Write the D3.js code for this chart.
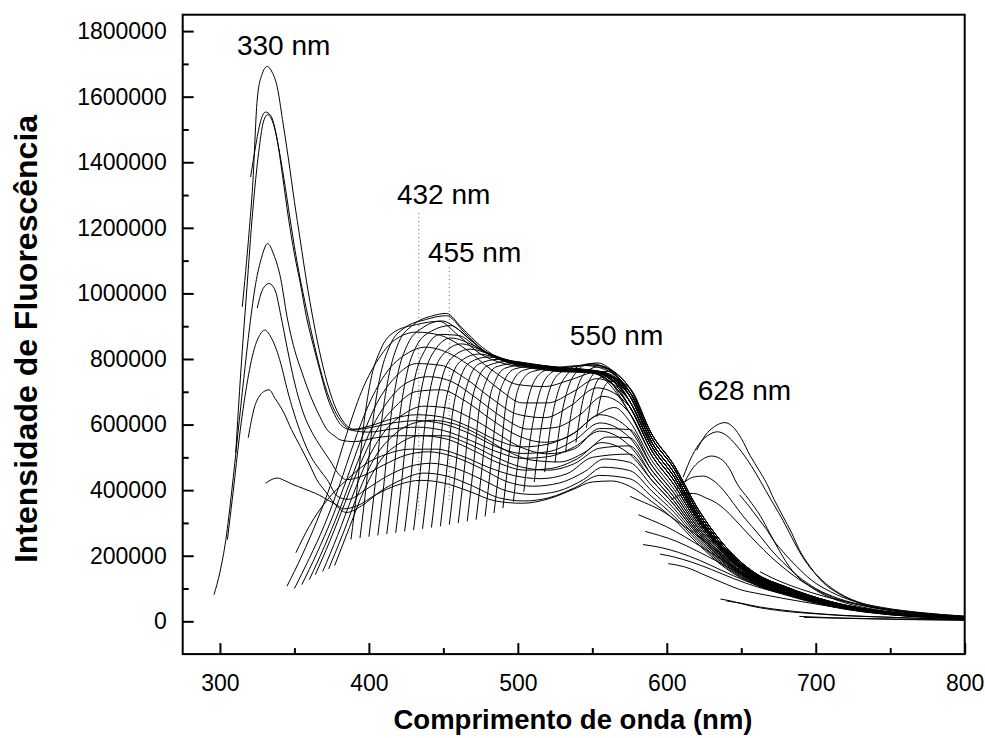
<!DOCTYPE html>
<html><head><meta charset="utf-8">
<script src="https://cdn.jsdelivr.net/npm/d3@7"></script>
<style>body{margin:0;background:#fff}</style>
</head><body>
<svg id="c" width="985" height="738"></svg>
<script>
// ---------- axis ticks ----------
const xMajor = [300, 400, 500, 600, 700, 800];
const xMinor = [350, 450, 550, 650, 750];
const yMajor = [0, 200000, 400000, 600000, 800000, 1000000, 1200000, 1400000, 1600000, 1800000];
const yMinor = [100000, 300000, 500000, 700000, 900000, 1100000, 1300000, 1500000, 1700000];

// ---------- annotations (wavelength nm, intensity) ----------
const peakLabels = ["330 nm", "432 nm", "455 nm", "550 nm", "628 nm"];
const peakLabelX = [311.4, 418.8, 439.6, 534.9, 620.8];
const peakLabelY = [1727000, 1273000, 1096000, 843000, 674000];
const guideX = [433.5, 454];
const guideTop = [1245000, 1081000];
const guideBottom = [318000, 361000];

// ---------- spectra: [wavelength nm, intensity in thousands] ----------
// shared long-wavelength tails (575-800 nm)
const tailA = [[575,712],[590,570],[605,475],[620,350],[640,225],[660,145],[680,105],[710,60],[750,27],[800,12]];
const tailB = [[575,700],[590,558],[605,465],[620,340],[640,218],[660,141],[680,102],[710,58],[750,26],[800,12]];
const tailC = [[575,688],[590,545],[605,452],[620,330],[640,212],[660,138],[680,100],[710,57],[750,26],[800,11]];
const tailD = [[575,672],[590,533],[605,440],[620,322],[640,207],[660,135],[680,98],[710,56],[750,25],[800,11]];
const tailE = [[575,655],[590,520],[605,428],[620,314],[640,202],[660,132],[680,96],[710,55],[750,25],[800,11]];
const tailF = [[575,635],[590,505],[605,415],[620,305],[640,197],[660,129],[680,94],[710,54],[750,24],[800,11]];
const tailG = [[575,610],[590,490],[605,402],[620,297],[640,192],[660,126],[680,92],[710,53],[750,24],[800,10]];
const tailH = [[575,585],[590,475],[605,390],[620,290],[640,188],[660,124],[680,90],[710,52],[750,23],[800,10]];
const tailI = [[575,560],[590,460],[605,378],[620,282],[640,184],[660,122],[680,89],[710,51],[750,23],[800,10]];
const tailJ = [[575,535],[590,445],[605,366],[620,275],[640,180],[660,120],[680,88],[710,50],[750,22],[800,10]];
const tailK = [[575,510],[590,430],[605,355],[620,268],[640,176],[660,118],[680,86],[710,49],[750,22],[800,9]];
const tailL = [[575,485],[590,413],[605,343],[620,261],[640,172],[660,116],[680,85],[710,48],[750,21],[800,9]];
const tailM = [[575,460],[590,397],[605,332],[620,254],[640,168],[660,114],[680,84],[710,47],[750,21],[800,9]];
const tailN = [[575,435],[590,380],[605,320],[620,247],[640,164],[660,112],[680,82],[710,46],[750,20],[800,9]];
const tailO = [[575,412],[590,365],[605,310],[620,240],[640,160],[660,110],[680,80],[710,45],[750,20],[800,8]];

// UV-excited spectra (330 nm band)
const uvCurves = [
 [[315,959],[319.5,1183],[322,1330],[325,1590],[328,1665],[331.8,1692],[335,1675],[338.5,1629],[342,1530],[346,1410],[350,1280],[354,1160],[358,1040],[363,910],[368,800],[373,712],[378,648],[383,608],[390,586],[400,595],[416,618],[432,630],[450,622],[468,592],[486,552],[503,532],[520,540],[538,575],[555,630]],
 [[320.6,1355],[324,1450],[327,1520],[330.5,1553],[334,1543],[338,1480],[342,1360],[346,1230],[350,1120],[354,1030],[358,930],[363,836],[368,750],[372,685],[377,630],[381,600],[388,584],[400,590],[416,605],[432,612],[450,602],[468,572],[486,532],[503,512],[520,517],[538,552],[555,605]],
 [[310.6,514],[314,760],[318,1010],[322,1250],[326,1430],[329,1520],[332,1545],[336,1515],[340,1430],[344,1320],[348,1200],[352,1090],[357,975],[362,870],[367,775],[372,698],[377,642],[382,606],[389,582],[400,577],[416,587],[432,592],[450,582],[468,552],[486,517],[503,497],[520,502],[538,532],[555,580]],
 [[296,81],[300,150],[304,250],[308,400],[312,570],[316,740],[320,900],[324,1030],[328,1110],[332,1152],[336,1120],[340.8,1045],[345,930],[350,830],[355,760],[361,685],[367,625],[372,584],[377,565],[381,553],[390,548],[405,560],[420,566],[435,566],[452,556],[470,521],[488,481],[505,461],[522,466],[540,496],[556,545]],
 [[325,955],[329,1015],[333,1030],[337,1010],[341,930],[345,837],[350,730],[356,635],[362,575],[368,530],[374,490],[379,453],[385,432],[395,442],[410,477],[425,507],[440,517],[457,502],[475,467],[492,427],[510,412],[528,422],[545,457],[558,495]],
 [[305,249],[309,400],[313,560],[318,720],[323,830],[327,875],[330,888],[335,860],[340.8,787],[345,710],[349.7,635],[355,565],[361,503],[367,462],[372,432],[379,381],[386,372],[398,402],[412,442],[427,472],[442,482],[458,467],[476,432],[493,397],[510,387],[527,397],[544,432],[557,470]],
 [[319,560],[323,650],[327,690],[330,702],[333,706],[337,680],[343,635],[348,585],[354,533],[360,480],[365,432],[371,395],[376.5,361],[385,332],[395,352],[408,397],[422,432],[437,452],[453,442],[470,412],[487,377],[504,367],[521,377],[538,407],[555,445]],
 [[330.7,421],[335,433],[338.5,437],[344,428],[349.7,416],[356,405],[361,396],[367,384],[372,371],[378,356],[383,343],[392,352],[405,387],[420,417],[435,430],[450,422],[467,397],[485,367],[503,360],[521,374],[537,402],[550,425],[563,428]]
];
const uvTails = [tailH, tailI, tailJ, tailK, tailL, tailM, tailN, tailO];

// spectra starting 345-377 nm (rising bundle)
const bundleCurves = [
 [[345,107],[355,200],[365,305],[375,425],[385,570],[395,700],[405,790],[418,860],[432,882],[448,872],[465,830],[482,768],[500,722],[518,716],[535,736],[553,760]],
 [[350,100],[360,192],[370,292],[380,412],[390,545],[400,662],[412,760],[425,815],[438,836],[455,815],[472,765],[488,706],[503,666],[520,666],[537,700],[553,740]],
 [[355,112],[365,207],[375,312],[385,432],[395,557],[405,662],[418,746],[432,786],[448,781],[465,740],[482,681],[500,631],[518,621],[535,656],[553,712]],
 [[360,127],[370,227],[380,337],[390,457],[400,571],[412,666],[425,726],[440,746],[456,730],[472,681],[490,621],[507,586],[525,591],[542,631],[557,686]],
 [[364,142],[374,247],[384,362],[394,477],[405,581],[418,656],[432,701],[448,706],[465,671],[482,616],[500,566],[518,546],[535,566],[552,626],[565,652]],
 [[369,152],[379,262],[389,382],[399,492],[410,576],[423,631],[437,656],[452,651],[468,621],[485,576],[502,531],[520,511],[538,526],[555,588]],
 [[373,160],[383,272],[393,392],[403,492],[415,561],[428,601],[442,613],[458,601],[475,566],[492,521],[510,491],[528,486],[545,516],[560,562]],
 [[377,170],[387,287],[397,402],[408,492],[420,541],[434,566],[450,566],[467,541],[485,501],[502,471],[520,461],[538,481],[555,528]],
 [[351,209],[360,290],[372,370],[385,431],[398,480],[412,510],[428,525],[445,525],[462,505],[480,470],[497,445],[515,435],[533,450],[550,500]]
];
const bundleTails = [tailC, tailD, tailE, tailF, tailG, tailH, tailI, tailJ, tailK];

// spectra starting 388-490 nm (steep strokes of the mesh)
const strokeCurves = [
 [[388,250],[392,400],[396,580],[401,730],[408,830],[418,885],[432,905],[447,915],[460,872],[475,815],[490,787],[510,771],[530,761],[552,758]],
 [[394,254],[398,405],[402,585],[407,735],[414,840],[424,895],[438,920],[452,932],[464,882],[478,822],[492,791],[510,773],[530,762],[552,760]],
 [[400,258],[404,410],[408,590],[413,740],[420,850],[430,905],[443,932],[452,939],[462,897],[476,836],[490,797],[510,776],[530,763],[552,762]],
 [[406,262],[410,415],[414,595],[419,745],[426,845],[436,895],[449,916],[460,890],[474,836],[488,798],[505,779],[525,766],[552,758]],
 [[412,266],[416,420],[420,600],[425,745],[432,840],[442,885],[455,902],[466,866],[480,816],[495,790],[515,773],[535,763],[552,756]],
 [[418,270],[422,425],[426,605],[431,745],[438,830],[448,875],[460,872],[474,831],[488,800],[505,781],[525,767],[552,758]],
 [[424,274],[428,430],[432,610],[437,745],[444,825],[455,864],[470,842],[484,806],[500,785],[520,771],[540,763],[554,758]],
 [[430,278],[434,435],[438,615],[443,745],[450,815],[462,846],[476,826],[490,801],[505,783],[525,769],[545,762],[556,756]],
 [[436,282],[440,440],[444,620],[449,740],[456,805],[468,830],[482,813],[496,793],[512,779],[530,766],[550,758]],
 [[442,286],[446,445],[450,625],[455,735],[462,795],[474,815],[488,801],[502,787],[518,775],[536,765],[552,755]],
 [[448,290],[452,450],[456,630],[461,735],[468,790],[480,806],[495,793],[510,781],[528,769],[545,763],[557,757]],
 [[454,295],[458,455],[462,635],[467,735],[474,785],[487,799],[503,789],[518,777],[535,767],[552,759]],
 [[460,300],[464,460],[468,640],[473,735],[480,780],[494,793],[510,785],[525,774],[542,766],[557,760]],
 [[466,305],[470,465],[474,645],[479,735],[486,777],[500,787],[517,780],[533,771],[550,762]],
 [[472,310],[476,470],[480,650],[485,735],[492,773],[506,783],[523,777],[540,769],[555,760]],
 [[478,320],[482,480],[486,655],[491,735],[498,770],[512,779],[530,773],[547,767],[559,758]],
 [[484,330],[488,490],[492,660],[497,735],[504,766],[518,776],[536,771],[552,764]],
 [[490,345],[494,505],[498,665],[503,735],[510,762],[524,771],[542,769],[557,760]]
];
const strokeTails = [tailA, tailB, tailC, tailD, tailE, tailC, tailB, tailD, tailE, tailF, tailC, tailD, tailB, tailE, tailF, tailD, tailC, tailE];

// spectra starting 497-553 nm (550 nm band)
const greenCurves = [
 [[497,365],[501,520],[506,660],[512,740],[520,768],[532,777],[545,780],[556,772]],
 [[504,395],[508,545],[513,670],[519,742],[527,768],[539,778],[551,782],[561,768]],
 [[511,425],[515,570],[520,685],[526,748],[534,770],[545,782],[555,780],[564,762]],
 [[518,455],[522,595],[527,700],[533,752],[541,777],[550,786],[558,776],[566,755]],
 [[525,485],[529,620],[534,715],[540,764],[547,784],[554,788],[562,770]],
 [[532,515],[536,640],[541,725],[547,765],[554,776],[562,764]],
 [[539,545],[543,660],[548,735],[554,762],[561,762],[567,745]],
 [[546,590],[550,690],[555,742],[561,750],[567,736]],
 [[553,624],[557,705],[562,732],[568,720]]
];
const greenTails = [tailB, tailB, tailA, tailA, tailA, tailB, tailC, tailC, tailD];

// spectra starting 575-601 nm (low, descending)
const orangeCurves = [
 [[575.4,381],[585,362],[595.5,340],[607,305],[618,270],[630,228],[640,192],[652,155],[665,122],[680,92],[700,62],[725,38],[750,23],[800,9]],
 [[581,325],[590,308],[600,288],[612,258],[625,222],[638,185],[652,147],[668,112],[685,85],[705,60],[730,37],[760,21],[800,9]],
 [[585.5,274],[595,262],[607,243],[620,215],[635,180],[650,143],[665,112],[680,88],[700,64],[725,41],[755,23],[800,9]],
 [[584,234],[595,226],[608,210],[622,186],[637,155],[652,125],[668,100],[685,80],[705,58],[730,37],[760,21],[800,9]],
 [[595.5,205],[605,196],[617,180],[630,158],[645,130],[660,106],[677,85],[695,66],[718,46],[745,29],[775,17],[800,10]],
 [[601,176],[612,166],[627,138],[640,113],[649,97],[662,84],[678,70],[697,55],[720,39],[748,26],[775,16],[800,9]]
];

// spectra with the 628 nm band
const redCurves = [
 [[620,522],[626,568],[632,594],[639,606],[645,590],[650,558],[656,505],[662,460],[667,421],[672,372],[678,320],[684,268],[689,218],[696,168],[705,118],[714,88],[723,67],[734,48],[745,37],[770,23],[799,15]],
 [[611,440],[617,505],[623,548],[628,568],[634,578],[640,567],[647,535],[654,493],[660,450],[666,402],[672,355],[678,308],[684,255],[690,205],[696,165],[702,135],[711,100],[721,73],[735,50],[752,34],[776,22],[800,14]],
 [[612,425],[618,470],[624,494],[630,504],[636,496],[642,466],[647,421],[655,372],[663,320],[669,270],[675,220],[681,175],[687,140],[695,110],[706,80],[720,56],[740,36],[765,23],[800,13]],
 [[606,398],[612,425],[618,440],[624.6,443],[631,430],[638,400],[644.7,360],[651,322],[657,290],[663,258],[670,218],[678,180],[688,138],[700,100],[715,70],[735,46],[760,28],[800,14]],
 [[603,372],[608,384],[613,390],[618,390],[626,377],[633.6,360],[642,328],[649,294],[656,260],[665,218],[674,180],[685,140],[698,102],[712,72],[730,49],[755,30],[800,14]],
 [[649,385],[655,352],[662,310],[667,280],[671.5,248],[678,212],[687,168],[697,126],[710,90],[725,62],[745,42],[770,27],[800,15]],
 [[662.6,151],[670,134],[678,118],[690,98],[705,77],[725,55],[750,36],[800,16]]
];

// weak spectra starting 636-692 nm
const farCurves = [
 [[636,68],[645,60],[656,47],[670,36],[685,28],[700,23],[720,17],[745,13],[770,9],[799,5]],
 [[640,62],[650,55],[662,44],[678,34],[695,26],[715,19],[740,14],[770,9],[800,6]],
 [[689,15],[710,11],[740,8],[770,6],[800,4]],
 [[692,12],[720,9],[750,6],[800,3]]
];

// ---------- drawing ----------
const L = 182.7, R = 964.7, T = 14.7, B = 654.1;
const svg = d3.select("#c");
const x = d3.scaleLinear().domain([275, 800]).range([L, R]);
const y = d3.scaleLinear().domain([-100000, 1850000]).range([B, T]);
const FONT = "'Liberation Sans', Arial, Helvetica, sans-serif";

svg.append("defs").append("clipPath").attr("id", "clip")
  .append("rect").attr("x", L).attr("y", T).attr("width", R - L).attr("height", B - T);

const spectra = [];
uvCurves.forEach((c, i) => spectra.push(c.concat(uvTails[i])));
bundleCurves.forEach((c, i) => spectra.push(c.concat(bundleTails[i])));
strokeCurves.forEach((c, i) => spectra.push(c.concat(strokeTails[i])));
greenCurves.forEach((c, i) => spectra.push(c.concat(greenTails[i])));
orangeCurves.forEach(c => spectra.push(c));
redCurves.forEach(c => spectra.push(c));
farCurves.forEach(c => spectra.push(c));

const line = d3.line()
  .x(d => x(d[0]))
  .y(d => y(d[1] * 1000))
  .curve(d3.curveMonotoneX);

// guide dotted lines
svg.append("g").selectAll("line").data(guideX).join("line")
  .attr("x1", d => x(d)).attr("x2", d => x(d))
  .attr("y1", (d, i) => y(guideTop[i])).attr("y2", (d, i) => y(guideBottom[i]))
  .attr("stroke", "#666").attr("stroke-width", 1).attr("stroke-dasharray", "1,3");

svg.append("g").attr("clip-path", "url(#clip)")
  .selectAll("path").data(spectra).join("path")
  .attr("d", line)
  .attr("fill", "none")
  .attr("stroke", "#000")
  .attr("stroke-width", 1)
  .attr("stroke-linejoin", "round");

// axes
function styleAxis(g) {
  g.select(".domain").remove();
  g.selectAll(".tick line").attr("stroke", "#000").attr("stroke-width", 2);
  g.attr("font-family", FONT).attr("font-size", 23);
  g.selectAll(".tick text").attr("fill", "#000");
}
const gx = svg.append("g").attr("transform", `translate(0,${B})`)
  .call(d3.axisBottom(x).tickValues(xMajor).tickSize(-11).tickPadding(21).tickFormat(d3.format("d")));
styleAxis(gx);
const gxm = svg.append("g").attr("transform", `translate(0,${B})`)
  .call(d3.axisBottom(x).tickValues(xMinor).tickSize(-6).tickFormat(""));
styleAxis(gxm);
const gy = svg.append("g").attr("transform", `translate(${L},0)`)
  .call(d3.axisLeft(y).tickValues(yMajor).tickSize(-11).tickPadding(16).tickFormat(d3.format("d")));
styleAxis(gy);
const gym = svg.append("g").attr("transform", `translate(${L},0)`)
  .call(d3.axisLeft(y).tickValues(yMinor).tickSize(-6).tickFormat(""));
styleAxis(gym);

// frame
svg.append("rect").attr("x", L).attr("y", T).attr("width", R - L).attr("height", B - T)
  .attr("fill", "none").attr("stroke", "#000").attr("stroke-width", 2);

// peak labels
svg.append("g").selectAll("text").data(peakLabels).join("text")
  .attr("x", (d, i) => x(peakLabelX[i]))
  .attr("y", (d, i) => y(peakLabelY[i]))
  .attr("font-family", FONT).attr("font-size", 28).attr("fill", "#000")
  .text(d => d);

// axis titles
svg.append("text").attr("x", 573).attr("y", 729).attr("text-anchor", "middle")
  .attr("font-family", FONT).attr("font-size", 27.5).attr("font-weight", "bold")
  .text("Comprimento de onda (nm)");
svg.append("text").attr("transform", "translate(37,339) rotate(-90)").attr("text-anchor", "middle")
  .attr("font-family", FONT).attr("font-size", 32).attr("font-weight", "bold")
  .text("Intensidade de Fluorescência");
</script>
</body></html>
